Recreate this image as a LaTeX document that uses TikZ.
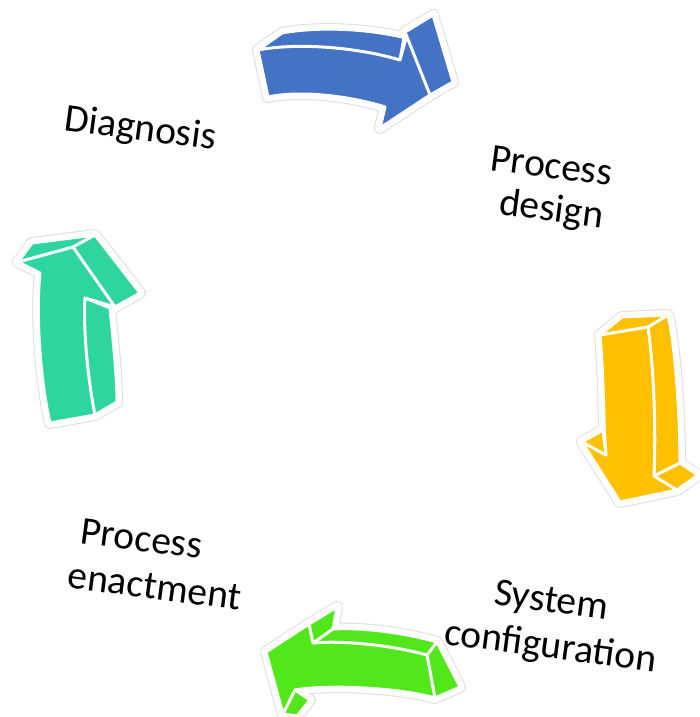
\documentclass[tikz,border=0pt]{standalone}
\usepackage{fontspec}
\setmainfont{Carlito}
\begin{document}
\begin{tikzpicture}[x=1pt,y=-1pt]
\definecolor{cblue}{HTML}{4472C4}
\definecolor{cyellow}{HTML}{FFC000}
\definecolor{cgreen}{HTML}{52E71A}
\definecolor{cteal}{HTML}{2FD59F}
\tikzset{
  halo/.style={draw=black!13, line width=12pt, line join=round},
  rim/.style={draw=white, line width=10pt, line join=round},
  face/.style={fill=#1, draw=white, line width=3pt, line join=round},
  lbl/.style={font=\fontsize{39.5}{45}\selectfont, anchor=base, rotate=-7.5, inner sep=0pt}
}
\useasboundingbox (0,0) rectangle (699,717);
\fill[white] (0,0) rectangle (699,717);

% ---------- blue arrow (top) ----------
\def\BlueFaces{
  (258,50) .. controls (300,42) and (360,48) .. (400,60) -- (405,32) -- (430,95) -- (380,128) -- (385,107) .. controls (350,96) and (300,90) .. (268,97) -- cycle
  (258,50) -- (282,33) .. controls (320,26) and (370,29) .. (406,38) -- (400,60) .. controls (360,48) and (300,42) .. (258,50) -- cycle
  (405,32) -- (433,15) -- (453,82) -- (430,95) -- cycle}
\path[halo] \BlueFaces;
\path[rim] \BlueFaces;
\path[face=cblue] \BlueFaces;

% ---------- yellow arrow (right) ----------
\def\YellowFaces{
  (600,335) .. controls (604,380) and (603,420) .. (606,455) -- (582,442) -- (620,502) -- (677,490) -- (654,476) .. controls (656,430) and (654,370) .. (648,327) -- cycle
  (600,335) -- (622,317) -- (668,315) -- (648,327) -- cycle
  (648,327) -- (668,315) .. controls (676,350) and (680,420) .. (680,463) -- (654,476) .. controls (656,430) and (654,370) .. (648,327) -- cycle
  (654,476) -- (680,463) -- (698,475) -- (677,490) -- cycle
  (582,442) -- (603,430) -- (606,455) -- cycle}
\path[halo] \YellowFaces;
\path[rim] \YellowFaces;
\path[face=cyellow] \YellowFaces;

% ---------- green arrow (bottom) ----------
\def\GreenFaces{
  (266,652) -- (309,624) -- (313,643) .. controls (345,640) and (395,646) .. (427,655) -- (435,698) .. controls (400,688) and (330,684) .. (295,690) -- (283,714) -- cycle
  (309,624) -- (337,607) -- (333,629) -- (313,643) -- cycle
  (313,643) -- (333,629) .. controls (365,627) and (410,634) .. (437,642) -- (427,655) .. controls (395,646) and (345,640) .. (313,643) -- cycle
  (427,655) -- (437,642) -- (460,687) -- (435,698) -- cycle
  (295,690) -- (310,700) -- (297,716) -- (283,714) -- cycle}
\path[halo] \GreenFaces;
\path[rim] \GreenFaces;
\path[face=cgreen] \GreenFaces;

% ---------- teal arrow (left) ----------
\def\TealFaces{
  (18,262) -- (73,247) -- (115,307) -- (85,298) .. controls (83,330) and (88,380) .. (95,415) -- (50,423) .. controls (42,390) and (35,320) .. (40,273) -- cycle
  (18,262) -- (32,243) -- (95,235) -- (73,247) -- cycle
  (73,247) -- (95,235) -- (140,293) -- (115,307) -- cycle
  (85,298) -- (110,308) .. controls (113,340) and (117,375) .. (117,402) -- (95,415) .. controls (88,380) and (83,330) .. (85,298) -- cycle}
\path[halo] \TealFaces;
\path[rim] \TealFaces;
\path[face=cteal] \TealFaces;

% ---------- labels ----------
\node[lbl] (diag) at (139,140) {Diagnosis};
\node[lbl] (pd1) at (550,178) {Process};
\node[lbl] (pd2) at (550,221) {design};
\node[lbl] (sc1) at (550,612) {System};
\node[lbl] (sc2) at (549,658) {configuration};
\node[lbl] (pe1) at (140,551) {Process};
\node[lbl] (pe2) at (153,599) {enactment};
\end{tikzpicture}
\end{document}
